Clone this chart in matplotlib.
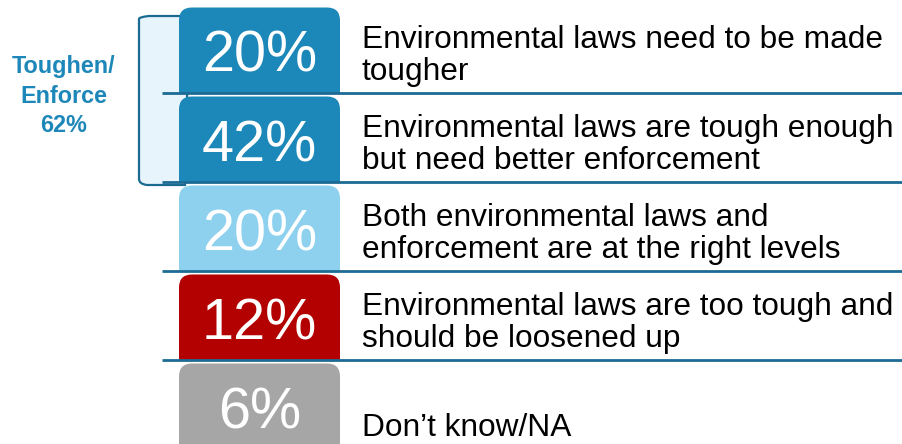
import matplotlib
matplotlib.use("Agg")
import matplotlib.pyplot as plt
from matplotlib.patches import FancyBboxPatch, Rectangle, PathPatch
from matplotlib.path import Path

# ---- data ----
percents = [20, 42, 20, 12, 6]
descriptions = [
    "Environmental laws need to be made\ntougher",
    "Environmental laws are tough enough\nbut need better enforcement",
    "Both environmental laws and\nenforcement are at the right levels",
    "Environmental laws are too tough and\nshould be loosened up",
    "Don\u2019t know/NA",
]
box_colors = ["#1c87b9", "#1c87b9", "#8ed1ef", "#b30000", "#a6a6a6"]
group_label = "Toughen/\nEnforce\n62%"
group_rows = [0, 1]

# ---- layout (pixels) ----
W, H = 902, 444
row_pitch = 89
row_origin = 4           # virtual separator above first row
box_left, box_right = 179, 340
sep_left = 162
text_left = 362
FONT = ["Liberation Sans", "DejaVu Sans"]
desc_size = 22.8
desc_descent = 0.21 * desc_size * 100 / 72

fig = plt.figure(figsize=(W / 100, H / 100), dpi=100)
ax = fig.add_axes([0, 0, 1, 1])
ax.set_xlim(0, W)
ax.set_ylim(H, 0)
ax.axis("off")

def sep_y(i):
    return row_origin + row_pitch * i

# bracket for the group
g_top = sep_y(group_rows[0]) + 14
g_bot = sep_y(group_rows[-1] + 1) + 1
bx = 139
verts = [
    (box_left + 10, g_top - 2),
    (bx + 10, g_top - 2),
    (bx, g_top - 1),
    (bx, g_top + 1),
    (bx, g_bot - 4),
    (bx, g_bot + 1),
    (bx + 8, g_bot + 2),
    (box_left + 6, g_bot + 2),
    (box_left + 6, g_top - 2),
]
codes = [Path.MOVETO, Path.LINETO, Path.CURVE3, Path.CURVE3, Path.LINETO,
         Path.CURVE3, Path.CURVE3, Path.LINETO, Path.CLOSEPOLY]
ax.add_patch(PathPatch(Path(verts, codes), facecolor="#e7f4fb",
                       edgecolor="#1a6a92", lw=1.6, zorder=1))

ax.text(63.5, 96, group_label, ha="center", va="center", color="#1d87b9",
        fontsize=16.8, fontweight="bold", family=FONT, linespacing=1.38)

for i, (p, d, c) in enumerate(zip(percents, descriptions, box_colors)):
    top = sep_y(i) + 3.5
    bottom = sep_y(i + 1)
    h = bottom - top
    ax.add_patch(FancyBboxPatch((box_left, top), box_right - box_left, h,
                                boxstyle="round,pad=0,rounding_size=13",
                                facecolor=c, edgecolor="none", zorder=2))
    ax.add_patch(Rectangle((box_left, top + h / 2), box_right - box_left, h / 2 + 0.5,
                           facecolor=c, edgecolor="none", zorder=2))
    ax.text((box_left + box_right) / 2, sep_y(i) + 68, f"{p}%", ha="center",
            va="baseline", color="white", fontsize=41.5, family=FONT, zorder=3)
    ax.text(text_left, sep_y(i) + 76 + desc_descent, d, ha="left", va="bottom",
            color="black", fontsize=desc_size, family=FONT, linespacing=1.08, zorder=3)
    if i > 0:
        ax.plot([sep_left, W], [sep_y(i), sep_y(i)], color="#1d6b94", lw=2,
                solid_capstyle="butt", zorder=4)

fig.savefig("out.png", dpi=100)
